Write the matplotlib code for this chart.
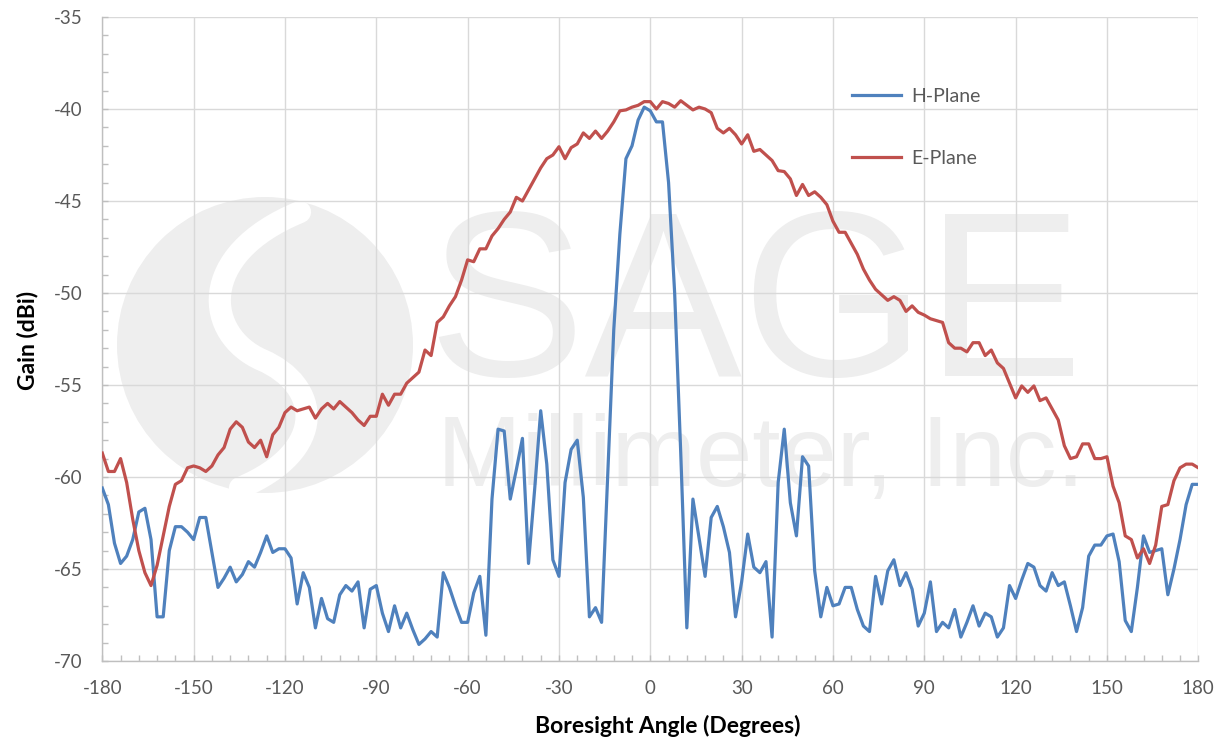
import numpy as np
import matplotlib
matplotlib.use("Agg")
import matplotlib.pyplot as plt
from matplotlib.patches import Ellipse, PathPatch
from matplotlib.path import Path
from matplotlib.ticker import MultipleLocator

plt.rcParams["axes.unicode_minus"] = False

# ---------------- data ----------------
angles = list(range(-180, 181, 2))

h_plane = [
    -60.6, -61.5, -63.6, -64.7, -64.3, -63.4, -61.9, -61.7, -63.4, -67.6,   # -180 .. -162
    -67.6, -64.0, -62.7, -62.7, -63.0, -63.4, -62.2, -62.2, -64.1, -66.0,   # -160 .. -142
    -65.5, -64.9, -65.7, -65.3, -64.6, -64.9, -64.1, -63.2, -64.1, -63.9,   # -140 .. -122
    -63.9, -64.4, -66.9, -65.2, -66.0, -68.2, -66.6, -67.7, -67.9, -66.4,   # -120 .. -102
    -65.9, -66.2, -65.7, -68.2, -66.1, -65.9, -67.4, -68.4, -67.0, -68.2,   # -100 .. -82
    -67.4, -68.3, -69.1, -68.8, -68.4, -68.7, -65.2, -66.0, -67.0, -67.9,   # -80 .. -62
    -67.9, -66.3, -65.4, -68.6, -61.2, -57.4, -57.5, -61.2, -59.6, -57.9,   # -60 .. -42
    -64.7, -60.7, -56.4, -59.3, -64.5, -65.4, -60.3, -58.5, -58.0, -61.1,   # -40 .. -22
    -67.6, -67.1, -67.9, -60.0, -52.0, -46.8, -42.7, -42.0, -40.6, -39.9,   # -20 .. -2
    -40.1, -40.7, -40.7, -44.0, -50.0, -58.7, -68.2, -61.2, -63.3, -65.4,   # 0 .. 18
    -62.2, -61.6, -62.7, -64.1, -67.6, -65.7, -63.1, -64.9, -65.2, -64.6,   # 20 .. 38
    -68.7, -60.3, -57.4, -61.4, -63.2, -58.9, -59.4, -65.1, -67.6, -66.0,   # 40 .. 58
    -67.0, -66.9, -66.0, -66.0, -67.2, -68.1, -68.4, -65.4, -66.9, -65.1,   # 60 .. 78
    -64.5, -65.9, -65.2, -66.1, -68.1, -67.4, -65.7, -68.4, -67.9, -68.2,   # 80 .. 98
    -67.2, -68.7, -67.9, -67.0, -68.1, -67.4, -67.6, -68.7, -68.2, -65.9,   # 100 .. 118
    -66.6, -65.6, -64.7, -64.9, -65.9, -66.2, -65.2, -65.9, -65.7, -67.0,   # 120 .. 138
    -68.4, -67.1, -64.3, -63.7, -63.7, -63.2, -63.1, -64.6, -67.8, -68.4,   # 140 .. 158
    -66.0, -63.2, -64.1, -64.0, -63.9, -66.4, -65.0, -63.4, -61.5, -60.4,   # 160 .. 178
    -60.4,                                                                  # 180
]

e_plane = [
    -58.7, -59.7, -59.7, -59.0, -60.3, -62.3, -64.0, -65.2, -65.9, -64.8,   # -180 .. -162
    -63.2, -61.6, -60.4, -60.2, -59.5, -59.4, -59.5, -59.7, -59.4, -58.8,   # -160 .. -142
    -58.4, -57.4, -57.0, -57.3, -58.1, -58.4, -58.0, -58.9, -57.7, -57.3,   # -140 .. -122
    -56.5, -56.2, -56.4, -56.3, -56.2, -56.8, -56.3, -56.0, -56.3, -55.9,   # -120 .. -102
    -56.2, -56.5, -56.9, -57.2, -56.7, -56.7, -55.5, -56.1, -55.5, -55.5,   # -100 .. -82
    -54.9, -54.6, -54.3, -53.1, -53.4, -51.6, -51.3, -50.7, -50.2, -49.3,   # -80 .. -62
    -48.2, -48.3, -47.6, -47.6, -46.9, -46.5, -46.0, -45.6, -44.8, -45.0,   # -60 .. -42
    -44.4, -43.8, -43.2, -42.7, -42.5, -42.05, -42.7, -42.1, -41.9, -41.3,  # -40 .. -22
    -41.6, -41.2, -41.6, -41.2, -40.7, -40.1, -40.05, -39.9, -39.8, -39.6,  # -20 .. -2
    -39.6, -40.0, -39.6, -39.7, -39.9, -39.55, -39.8, -40.05, -39.9, -40.0, # 0 .. 18
    -40.2, -41.05, -41.3, -41.05, -41.4, -41.9, -41.4, -42.3, -42.2, -42.5, # 20 .. 38
    -42.8, -43.35, -43.4, -43.8, -44.7, -44.1, -44.7, -44.5, -44.8, -45.2,  # 40 .. 58
    -46.1, -46.7, -46.7, -47.3, -47.9, -48.7, -49.3, -49.8, -50.1, -50.4,   # 60 .. 78
    -50.2, -50.4, -51.0, -50.7, -51.05, -51.2, -51.4, -51.5, -51.6, -52.7,  # 80 .. 98
    -53.0, -53.0, -53.2, -52.7, -52.7, -53.4, -53.1, -53.8, -54.1, -54.9,   # 100 .. 118
    -55.7, -55.05, -55.4, -55.05, -55.85, -55.7, -56.3, -56.9, -58.3, -59.0, # 120 .. 138
    -58.9, -58.2, -58.2, -59.0, -59.0, -58.9, -60.5, -61.4, -63.2, -63.4,   # 140 .. 158
    -64.4, -63.9, -64.7, -63.7, -61.6, -61.5, -60.2, -59.5, -59.3, -59.3,   # 160 .. 178
    -59.5,                                                                  # 180
]

series_names = ["H-Plane", "E-Plane"]
x_ticks = list(range(-180, 181, 30))
y_ticks = list(range(-70, -34, 5))

assert len(angles) == len(h_plane) == len(e_plane)

# ---------------- figure ----------------
W, H = 1218, 740
fig = plt.figure(figsize=(W / 100, H / 100), dpi=100)
L, R, T, B = 102.3, 1198.3, 17, 661
ax = fig.add_axes([L / W, 1 - B / H, (R - L) / W, (B - T) / H])


def px(x, y):
    """pixel position -> axes fraction"""
    return ((x - L) / (R - L), (B - y) / (B - T))


wm = "#EEEEEE"
# watermark logo (circle with white swirl)
cx, cy = px(265, 345)
ax.add_patch(Ellipse((cx, cy), 2 * 148 / (R - L), 2 * 148 / (B - T),
                     transform=ax.transAxes, facecolor=wm, edgecolor="none", zorder=0.2))
verts = [px(300, 212), px(195, 255), px(205, 335), px(262, 360),
         px(320, 385), px(330, 450), px(240, 488)]
codes = [Path.MOVETO, Path.CURVE4, Path.CURVE4, Path.CURVE4, Path.CURVE4, Path.CURVE4, Path.CURVE4]
ax.add_patch(PathPatch(Path(verts, codes), transform=ax.transAxes, facecolor="none",
                       edgecolor="white", lw=16, zorder=0.25, capstyle="round"))
tx, ty = px(755, 376)
ax.text(tx, ty, "SAGE", transform=ax.transAxes, ha="center", va="baseline",
        fontsize=170, family="Liberation Sans", color=wm, zorder=0.2)
tx, ty = px(437, 486)
ax.text(tx, ty, "Millimeter, Inc.", transform=ax.transAxes, ha="left", va="baseline",
        fontsize=73, family="Liberation Sans", color=wm, zorder=0.2)

# data
ax.plot(angles, h_plane, color="#4F81BD", lw=2.3, label=series_names[0], zorder=3,
        solid_joinstyle="round")
ax.plot(angles, e_plane, color="#C0504D", lw=2.3, label=series_names[1], zorder=3,
        solid_joinstyle="round")

ax.set_xlim(-180, 180)
ax.set_ylim(-70, -35)
ax.set_xticks(x_ticks)
ax.set_yticks(y_ticks)
ax.xaxis.set_minor_locator(MultipleLocator(6))
ax.yaxis.set_minor_locator(MultipleLocator(1))
ax.grid(True, which="major", color="#D9D9D9", lw=1.0)
ax.set_axisbelow(True)

for s in ["top", "right"]:
    ax.spines[s].set_visible(False)
for s in ["left", "bottom"]:
    ax.spines[s].set_color("#BFBFBF")
    ax.spines[s].set_linewidth(1.0)

ax.tick_params(axis="both", which="both", direction="in", color="#BFBFBF",
               length=4, width=1.0, labelcolor="#595959", labelsize=13.5, pad=14)
for lab in ax.get_xticklabels() + ax.get_yticklabels():
    lab.set_family("Lato")

fig.text(28 / W, 1 - 340 / H, "Gain (dBi)", rotation=90, ha="center", va="center",
         fontsize=16.5, fontweight="bold", family="Lato", color="black")
fig.text(668 / W, 1 - 726 / H, "Boresight Angle (Degrees)", ha="center", va="center",
         fontsize=16.5, fontweight="bold", family="Lato", color="black")

lx, ly = px(852, 88)
leg = ax.legend(loc="upper left", bbox_to_anchor=(lx, ly), frameon=False,
                handlelength=2.5, handletextpad=0.55, labelspacing=2.3,
                borderaxespad=0, borderpad=0, prop={"family": "Lato", "size": 14})
for t in leg.get_texts():
    t.set_color("#595959")

fig.savefig("out.png", dpi=100)
